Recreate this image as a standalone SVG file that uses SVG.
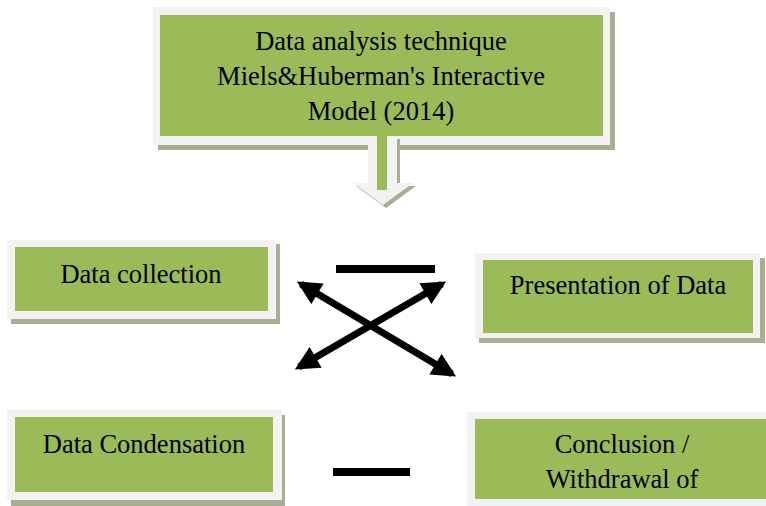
<svg xmlns="http://www.w3.org/2000/svg" width="766" height="506" viewBox="0 0 766 506">
  <defs>
    <style>
      .shadow { fill: #a8ad93; }
      .frame { fill: #f2f2f2; }
      .box { fill: #9bbb59; }
      .label { font-family: "Liberation Serif", "Times New Roman", serif; font-size: 26.5px; fill: #000; text-anchor: middle; }
      .link { stroke: #000; stroke-width: 7; fill: none; }
      .bar { fill: #000; }
    </style>
    <marker id="head" viewBox="0 0 10 10" refX="8" refY="5" markerUnits="userSpaceOnUse" markerWidth="25" markerHeight="24" orient="auto-start-reverse">
      <path d="M0,0 L10,5 L0,10 Z" fill="#000"/>
    </marker>
  </defs>

  <!-- heading node -->
  <g id="technique">
    <rect class="shadow" x="158" y="12" width="457" height="138"/>
    <rect class="frame" x="153" y="7" width="457" height="138"/>
    <rect class="box" x="160" y="15" width="443" height="121"/>
    <text class="label" x="381" y="50">Data analysis technique</text>
    <text class="label" x="381" y="85">Miels&amp;Huberman's Interactive</text>
    <text class="label" x="381" y="120">Model (2014)</text>
  </g>

  <!-- block arrow pointing down from the heading -->
  <g id="down-arrow">
    <polygon class="shadow" points="371,139 400,139 400,186 416,186 386,208 356,186 371,186"/>
    <polygon class="frame" points="368,136 397,136 397,183 413,183 383,205 353,183 368,183"/>
    <rect class="box" x="377" y="136" width="10" height="54"/>
  </g>

  <g id="data-collection">
    <rect class="shadow" x="11" y="244" width="269" height="80"/>
    <rect class="frame" x="7" y="240" width="269" height="79"/>
    <rect class="box" x="15" y="247" width="253" height="64"/>
    <text class="label" x="141" y="283">Data collection</text>
  </g>

  <g id="presentation">
    <rect class="shadow" x="479" y="258" width="286" height="85"/>
    <rect class="frame" x="475" y="253" width="285" height="85"/>
    <rect class="box" x="483" y="260" width="270" height="73"/>
    <text class="label" x="618" y="294">Presentation of Data</text>
  </g>

  <g id="condensation">
    <rect class="shadow" x="11" y="415" width="274" height="91"/>
    <rect class="frame" x="7" y="410" width="275" height="90"/>
    <rect class="box" x="15" y="417" width="258" height="75"/>
    <text class="label" x="144" y="453">Data Condensation</text>
  </g>

  <g id="conclusion">
    <rect class="frame" x="467" y="412" width="305" height="100"/>
    <rect class="box" x="475" y="419" width="300" height="80"/>
    <text class="label" x="622" y="453">Conclusion /</text>
    <text class="label" x="622" y="488">Withdrawal of</text>
  </g>

  <!-- connectors between the four stages -->
  <g id="connectors">
    <rect class="bar" x="336" y="265" width="99" height="8"/>
    <rect class="bar" x="333" y="468" width="77" height="8"/>
    <line class="link" x1="301" y1="284" x2="452" y2="374" marker-start="url(#head)" marker-end="url(#head)"/>
    <line class="link" x1="299" y1="367" x2="442" y2="284" marker-start="url(#head)" marker-end="url(#head)"/>
  </g>
</svg>
